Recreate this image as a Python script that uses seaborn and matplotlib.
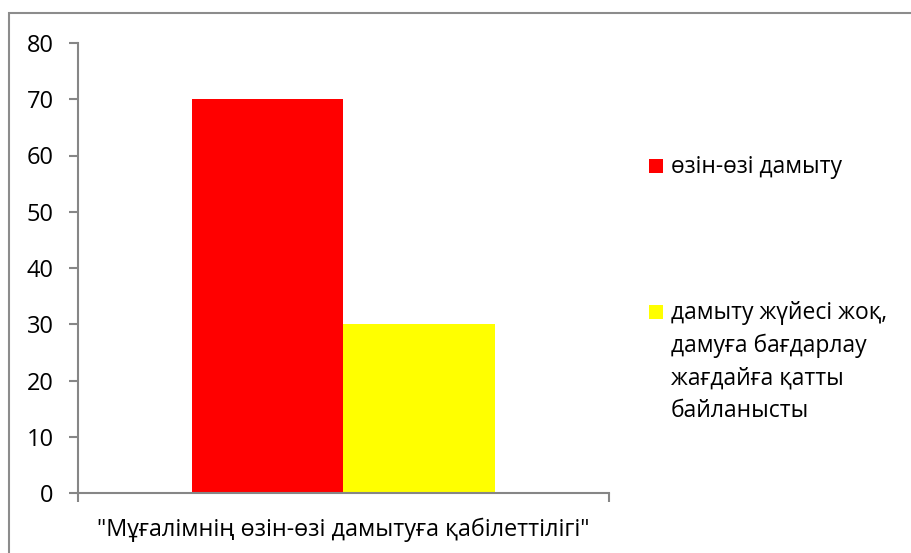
import matplotlib
matplotlib.use("Agg")
import matplotlib.pyplot as plt
from matplotlib.patches import Rectangle
import pandas as pd
import seaborn as sns

# data
category = ['"Мұғалімнің өзін-өзі дамытуға қабілеттілігі"']
series = ["өзін-өзі дамыту",
          "дамыту жүйесі жоқ,\nдамуға бағдарлау\nжағдайға қатты\nбайланысты"]
values = [70, 30]
colors = ["#ff0000", "#ffff00"]
yticks = [0, 10, 20, 30, 40, 50, 60, 70, 80]

df = pd.DataFrame({"cat": category * len(series), "series": series, "value": values})

sns.set_theme(style="white")
plt.rcParams["font.family"] = ["Open Sans", "DejaVu Sans"]
grey = "#868686"

fig = plt.figure(figsize=(9.12, 5.53), dpi=100)
ax = fig.add_axes([78 / 912, 60 / 553, (609 - 78) / 912, 450 / 553])

sns.barplot(data=df, x="cat", y="value", hue="series", hue_order=series,
            palette=colors, width=0.57, saturation=1, legend=False, ax=ax,
            edgecolor="none", linewidth=0)

ax.set_xlim(-0.5, 0.5)
ax.set_ylim(0, 80)
ax.set_yticks(yticks)
ax.set_xticks([-0.5, 0.5])
ax.set_xticklabels(["", ""])
ax.set_xlabel(category[0], fontsize=16.8, labelpad=8, color="black")
ax.set_ylabel("")
for s in ["top", "right"]:
    ax.spines[s].set_visible(False)
for s in ["left", "bottom"]:
    ax.spines[s].set_color(grey)
    ax.spines[s].set_linewidth(1.5)
ax.tick_params(axis="y", direction="out", length=6.5, width=1.5, color=grey,
               labelsize=17, pad=11, left=True, labelcolor="black")
ax.tick_params(axis="x", direction="out", length=6.5, width=1.5, color=grey,
               bottom=True)

# legend drawn by hand so the square sits on the first line of each label
leg_y = [166, 312]
for lab, col, y in zip(series, colors, leg_y):
    fy = 1 - y / 553
    fig.patches.append(Rectangle((649 / 912, fy - 7 / 553), 14 / 912, 14 / 553,
                                 transform=fig.transFigure, facecolor=col,
                                 edgecolor="none"))
    fig.text(671 / 912, fy + 11 / 553, lab, fontsize=16.5, va="top", ha="left",
             linespacing=1.47, color="black")

# chart-area border
fig.patches.append(Rectangle((9 / 912, -0.1), 1.0, 1.1 - 13 / 553,
                             transform=fig.transFigure, facecolor="none",
                             edgecolor="#8c8c8c", linewidth=1.5))

fig.savefig("out.png", dpi=100)
